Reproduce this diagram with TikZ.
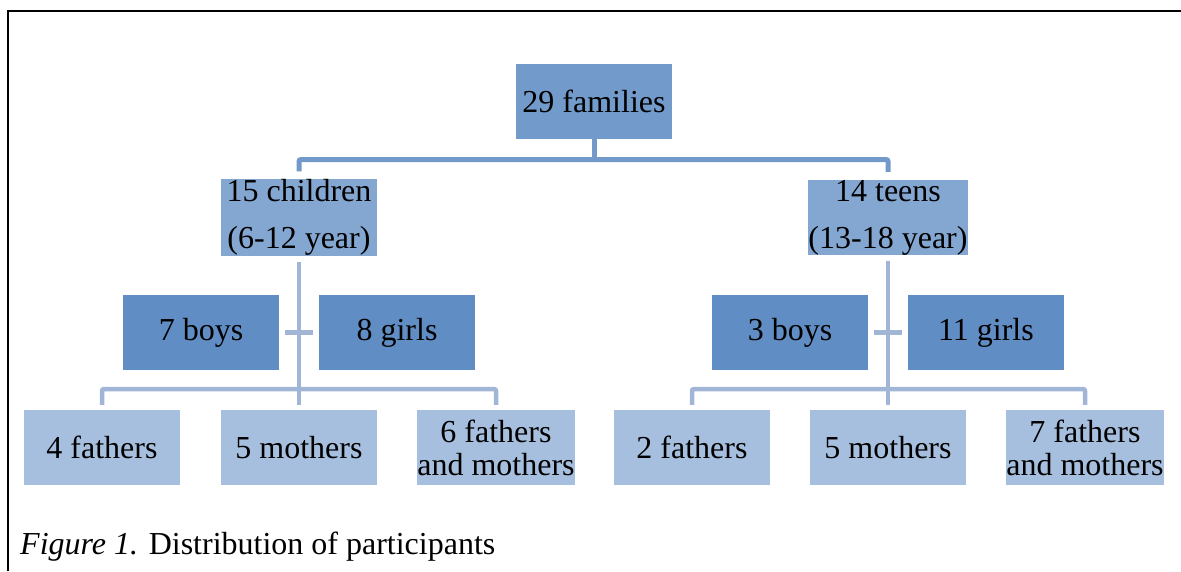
\documentclass[tikz,border=0pt]{standalone}
\usepackage{fontspec}
\setmainfont{Liberation Serif}
\definecolor{famc}{RGB}{114,155,203}
\definecolor{agec}{RGB}{132,167,210}
\definecolor{sexc}{RGB}{96,141,196}
\definecolor{parc}{RGB}{167,191,222}
\definecolor{topline}{RGB}{114,153,201}
\definecolor{lowline}{RGB}{161,181,215}
\begin{document}
\begin{tikzpicture}[x=1pt,y=-1pt,
  box/.style={draw=none, inner sep=0pt, minimum width=156pt, minimum height=75pt,
    align=center, text=black, font=\fontsize{32}{44}\selectfont},
  famb/.style={box, fill=famc},
  ageb/.style={box, fill=agec, font=\fontsize{32}{47}\selectfont},
  sexb/.style={box, fill=sexc},
  parb/.style={box, fill=parc, font=\fontsize{32}{33}\selectfont},
  topconn/.style={draw=topline, line width=5pt, rounded corners=2pt},
  lowconn/.style={draw=lowline, line width=4.5pt, rounded corners=2pt}]
\useasboundingbox (0,0) rectangle (1181,571);
% frame
\draw[line width=2pt] (8,571) -- (8,11) -- (1181,11);
% nodes
\node[famb] (fam) at (594,101.5) {29 families};
\node[ageb] (ch) at (299,217.5) {15 children\\(6-12 year)};
\node[ageb] (te) at (888,217.5) {14 teens\\(13-18 year)};
\node[sexb] (b1) at (201,332.5) {7 boys};
\node[sexb] (g1) at (397,332.5) {8 girls};
\node[sexb] (b2) at (790,332.5) {3 boys};
\node[sexb] (g2) at (986,332.5) {11 girls};
\node[parb] (f1) at (102,447.5) {4 fathers};
\node[parb] (m1) at (299,447.5) {5 mothers};
\node[parb] (fm1) at (496,447.5) {6 fathers\\and mothers};
\node[parb] (f2) at (692,447.5) {2 fathers};
\node[parb] (m2) at (888,447.5) {5 mothers};
\node[parb] (fm2) at (1085,447.5) {7 fathers\\and mothers};
% junction coordinates
\coordinate (tj) at (594,159.5);
\coordinate (lj1) at (299,389);
\coordinate (lj2) at (888,389);
% top connectors
\draw[topconn] (fam.south) -- (tj);
\draw[topconn, shorten <=8pt, shorten >=8pt] (ch.north) |- (tj) -| (te.north);
% lower connectors, left
\draw[lowconn, shorten <=6pt, shorten >=5pt] (ch.south) -- (m1.north);
\draw[lowconn, shorten <=5pt, shorten >=5pt] (f1.north) |- (lj1) -| (fm1.north);
\draw[lowconn, shorten <=6pt, shorten >=6pt] (b1.east) -- (g1.west);
% lower connectors, right
\draw[lowconn, shorten <=6pt, shorten >=5pt] (te.south) -- (m2.north);
\draw[lowconn, shorten <=5pt, shorten >=5pt] (f2.north) |- (lj2) -| (fm2.north);
\draw[lowconn, shorten <=6pt, shorten >=6pt] (b2.east) -- (g2.west);
% caption
\node[anchor=base west, inner sep=0pt, font=\fontsize{32}{38}\selectfont] (cap) at (20,554)
  {\textit{Figure 1.} Distribution of participants};
\end{tikzpicture}
\end{document}
